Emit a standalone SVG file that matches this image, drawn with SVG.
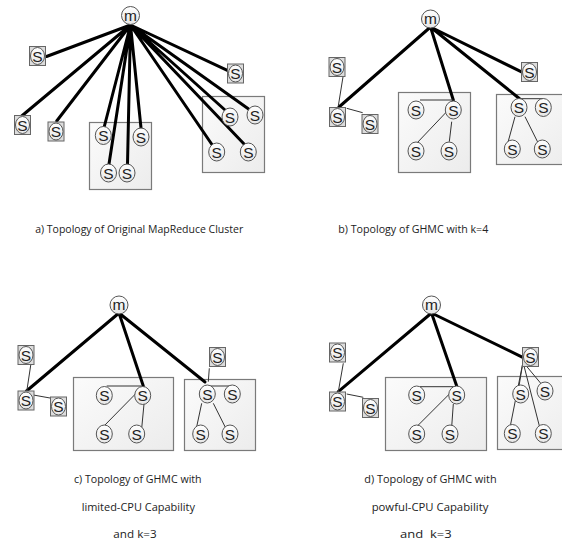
<svg xmlns="http://www.w3.org/2000/svg" width="562" height="546" viewBox="0 0 562 546">
<defs>
<linearGradient id="cg" x1="0" y1="0" x2="0" y2="1"><stop offset="0" stop-color="#ffffff"/><stop offset="1" stop-color="#e6e6e6"/></linearGradient>
<linearGradient id="bg" x1="0" y1="0" x2="1" y2="1"><stop offset="0" stop-color="#fbfbfb"/><stop offset="1" stop-color="#ececec"/></linearGradient>
</defs>
<style>
.cl{fill:url(#bg);stroke:#7a7a7a;stroke-width:1.2}
.c{fill:url(#cg);stroke:#555;stroke-width:1}
.sq{fill:#dcdcdc;stroke:#666;stroke-width:1}
.t{font-family:"Liberation Sans",Arial,sans-serif;font-size:15.5px;fill:#222;text-anchor:middle}
.cap{font-family:"Open Sans","Liberation Sans",Arial,sans-serif;font-size:11px;fill:#222;text-anchor:middle;white-space:pre}
.k{stroke:#000;stroke-width:3;fill:none;stroke-linecap:round}
.n{stroke:#333;stroke-width:1;fill:none}
</style>

<!-- cluster boxes -->
<g id="clusters">
<rect class="cl" x="89.5" y="122.5" width="62" height="67"/>
<rect class="cl" x="202.5" y="96.5" width="62" height="76"/>
<rect class="cl" x="398.5" y="92.5" width="72" height="80"/>
<rect class="cl" x="496.5" y="94.5" width="80" height="70"/>
<rect class="cl" x="73.5" y="377.5" width="100" height="73"/>
<rect class="cl" x="184.5" y="379.5" width="71" height="71"/>
<rect class="cl" x="385.5" y="377.5" width="101" height="73"/>
<rect class="cl" x="497.5" y="376.5" width="80" height="73"/>
</g>

<!-- connectors -->
<g id="connectors">
<!-- panel a -->
<path class="k" d="M130.5 25L46.5 56.5M130.5 25L230 71.7M130.5 25L21.7 116M130.5 25L56.7 121M130.5 25L104.3 126.5M130.5 25L141 128M130.5 25L109 164M130.5 25L127.5 164M130.5 25L226.7 111.5M130.5 25L250 110M130.5 25L213.3 146.5M130.5 25L245 145"/>
<!-- panel b -->
<path class="k" d="M430.5 27L339 107M430.5 27L453.3 100M430.5 27L519.3 98.5M430.5 27L521 71.7"/>
<path class="n" d="M343.3 75L338.3 106M346.7 108.3L362.7 112.7M420 100L453.3 100M446.7 111.7L416.7 143.3M451.7 121.7L449.3 141.7M519.3 98.7L543.3 98.7M515 116.7L507.7 143.3M525 116.7L538.3 143.3"/>
<!-- panel c -->
<path class="k" d="M119 313L26.5 391M119 313L143.3 386M119 313L205 382"/>
<path class="n" d="M31 363.3L26.7 391.7M33.3 395L51.7 398.3M106.7 386L141.7 386M137.7 391.7L103.3 426.7M144 404L141.7 428.3M206.7 386L230 386M209.3 368.3L208.3 381.7M201.7 403.3L196.7 426.7M213.3 403.3L226.7 430"/>
<!-- panel d -->
<path class="k" d="M431.5 313L338.3 391.7M431.5 313L456.7 386M431.5 313L522.7 357.3"/>
<path class="n" d="M343.3 363.3L338.3 391.7M346.7 394L363.3 397.3M420 386.7L455 386.7M451.7 391.7L416.7 426.7M453.3 404L451.7 426.7M523 362L519 386M523 362L510 427.5M523 362L540 428.5M523 362L543 386"/>
</g>

<!-- panel a nodes -->
<g id="a_m"><circle class="c" cx="130.5" cy="15.5" r="9"/><text class="t" x="130.5" y="20.5">m</text></g>
<g id="a_s1"><rect class="sq" x="29.5" y="46.5" width="16" height="19"/><ellipse class="c" cx="37.5" cy="56" rx="7" ry="8.5"/><text class="t" x="37.5" y="61.5">S</text></g>
<g id="a_s2"><rect class="sq" x="227.5" y="64" width="16" height="19"/><ellipse class="c" cx="235.5" cy="73.5" rx="7" ry="8.5"/><text class="t" x="235.5" y="79">S</text></g>
<g id="a_s3"><rect class="sq" x="14.5" y="115.5" width="16" height="19"/><ellipse class="c" cx="22.5" cy="125" rx="7" ry="8.5"/><text class="t" x="22.5" y="130.5">S</text></g>
<g id="a_s4"><rect class="sq" x="48" y="122" width="16" height="19"/><ellipse class="c" cx="56" cy="131.5" rx="7" ry="8.5"/><text class="t" x="56" y="137">S</text></g>
<g id="a_c1"><ellipse class="c" cx="103.3" cy="135.5" rx="8" ry="9"/><text class="t" x="103.3" y="141">S</text></g>
<g id="a_c2"><ellipse class="c" cx="141" cy="137" rx="8" ry="9"/><text class="t" x="141" y="142.5">S</text></g>
<g id="a_c3"><ellipse class="c" cx="108.5" cy="173" rx="8" ry="9"/><text class="t" x="108.5" y="178.5">S</text></g>
<g id="a_c4"><ellipse class="c" cx="127" cy="173" rx="8" ry="9"/><text class="t" x="127" y="178.5">S</text></g>
<g id="a_c5"><ellipse class="c" cx="230" cy="117" rx="8" ry="9"/><text class="t" x="230" y="122.5">S</text></g>
<g id="a_c6"><ellipse class="c" cx="255" cy="115" rx="8" ry="9"/><text class="t" x="255" y="120.5">S</text></g>
<g id="a_c7"><ellipse class="c" cx="216.7" cy="152" rx="8" ry="9"/><text class="t" x="216.7" y="157.5">S</text></g>
<g id="a_c8"><ellipse class="c" cx="248.3" cy="152" rx="8" ry="9"/><text class="t" x="248.3" y="157.5">S</text></g>

<!-- panel b nodes -->
<g id="b_m"><circle class="c" cx="430.5" cy="19" r="9"/><text class="t" x="430.5" y="24">m</text></g>
<g id="b_s1"><rect class="sq" x="329" y="57.5" width="16" height="19"/><ellipse class="c" cx="337" cy="67" rx="7" ry="8.5"/><text class="t" x="337" y="72.5">S</text></g>
<g id="b_s2"><rect class="sq" x="329.5" y="107.5" width="16" height="19"/><ellipse class="c" cx="337.5" cy="117" rx="7" ry="8.5"/><text class="t" x="337.5" y="122.5">S</text></g>
<g id="b_s3"><rect class="sq" x="362" y="114.5" width="16" height="19"/><ellipse class="c" cx="370" cy="124" rx="7" ry="8.5"/><text class="t" x="370" y="129.5">S</text></g>
<g id="b_s4"><rect class="sq" x="521.5" y="62.5" width="16" height="19"/><ellipse class="c" cx="529.5" cy="72" rx="7" ry="8.5"/><text class="t" x="529.5" y="77.5">S</text></g>
<g id="b_c1"><ellipse class="c" cx="416" cy="110" rx="8" ry="9"/><text class="t" x="416" y="115.5">S</text></g>
<g id="b_c2"><ellipse class="c" cx="453.3" cy="110" rx="8" ry="9"/><text class="t" x="453.3" y="115.5">S</text></g>
<g id="b_c3"><ellipse class="c" cx="416" cy="151" rx="8" ry="9"/><text class="t" x="416" y="156.5">S</text></g>
<g id="b_c4"><ellipse class="c" cx="449" cy="151" rx="8" ry="9"/><text class="t" x="449" y="156.5">S</text></g>
<g id="b_c5"><ellipse class="c" cx="519" cy="107.5" rx="8" ry="9"/><text class="t" x="519" y="113">S</text></g>
<g id="b_c6"><ellipse class="c" cx="543.3" cy="107.5" rx="8" ry="9"/><text class="t" x="543.3" y="113">S</text></g>
<g id="b_c7"><ellipse class="c" cx="512.3" cy="149" rx="8" ry="9"/><text class="t" x="512.3" y="154.5">S</text></g>
<g id="b_c8"><ellipse class="c" cx="542.3" cy="149" rx="8" ry="9"/><text class="t" x="542.3" y="154.5">S</text></g>

<!-- panel c nodes -->
<g id="c_m"><circle class="c" cx="119" cy="305" r="9"/><text class="t" x="119" y="310">m</text></g>
<g id="c_s1"><rect class="sq" x="18" y="345.5" width="16" height="19"/><ellipse class="c" cx="26" cy="355" rx="7" ry="8.5"/><text class="t" x="26" y="360.5">S</text></g>
<g id="c_s2"><rect class="sq" x="18" y="391" width="16" height="19"/><ellipse class="c" cx="26" cy="400.5" rx="7" ry="8.5"/><text class="t" x="26" y="406">S</text></g>
<g id="c_s3"><rect class="sq" x="50.5" y="397" width="16" height="19"/><ellipse class="c" cx="58.5" cy="406.5" rx="7" ry="8.5"/><text class="t" x="58.5" y="412">S</text></g>
<g id="c_s4"><rect class="sq" x="209.5" y="347.5" width="16" height="19"/><ellipse class="c" cx="217.5" cy="357" rx="7" ry="8.5"/><text class="t" x="217.5" y="362.5">S</text></g>
<g id="c_c1"><ellipse class="c" cx="104.3" cy="395.5" rx="8" ry="9"/><text class="t" x="104.3" y="401">S</text></g>
<g id="c_c2"><ellipse class="c" cx="142.7" cy="395.5" rx="8" ry="9"/><text class="t" x="142.7" y="401">S</text></g>
<g id="c_c3"><ellipse class="c" cx="104.3" cy="434" rx="8" ry="9"/><text class="t" x="104.3" y="439.5">S</text></g>
<g id="c_c4"><ellipse class="c" cx="136.7" cy="434" rx="8" ry="9"/><text class="t" x="136.7" y="439.5">S</text></g>
<g id="c_c5"><ellipse class="c" cx="207.3" cy="394" rx="8" ry="9"/><text class="t" x="207.3" y="399.5">S</text></g>
<g id="c_c6"><ellipse class="c" cx="232.3" cy="394" rx="8" ry="9"/><text class="t" x="232.3" y="399.5">S</text></g>
<g id="c_c7"><ellipse class="c" cx="200.7" cy="434" rx="8" ry="9"/><text class="t" x="200.7" y="439.5">S</text></g>
<g id="c_c8"><ellipse class="c" cx="230" cy="434" rx="8" ry="9"/><text class="t" x="230" y="439.5">S</text></g>

<!-- panel d nodes -->
<g id="d_m"><circle class="c" cx="431.5" cy="305" r="9"/><text class="t" x="431.5" y="310">m</text></g>
<g id="d_s1"><rect class="sq" x="329.5" y="343" width="16" height="19"/><ellipse class="c" cx="337.5" cy="352.5" rx="7" ry="8.5"/><text class="t" x="337.5" y="358">S</text></g>
<g id="d_s2"><rect class="sq" x="329.5" y="392" width="16" height="19"/><ellipse class="c" cx="337.5" cy="401.5" rx="7" ry="8.5"/><text class="t" x="337.5" y="407">S</text></g>
<g id="d_s3"><rect class="sq" x="362.5" y="398.5" width="16" height="19"/><ellipse class="c" cx="370.5" cy="408" rx="7" ry="8.5"/><text class="t" x="370.5" y="413.5">S</text></g>
<g id="d_s4"><rect class="sq" x="522.5" y="347.5" width="16" height="19"/><ellipse class="c" cx="530.5" cy="357" rx="7" ry="8.5"/><text class="t" x="530.5" y="362.5">S</text></g>
<g id="d_c1"><ellipse class="c" cx="416.7" cy="395" rx="8" ry="9"/><text class="t" x="416.7" y="400.5">S</text></g>
<g id="d_c2"><ellipse class="c" cx="456.7" cy="395" rx="8" ry="9"/><text class="t" x="456.7" y="400.5">S</text></g>
<g id="d_c3"><ellipse class="c" cx="416.7" cy="434" rx="8" ry="9"/><text class="t" x="416.7" y="439.5">S</text></g>
<g id="d_c4"><ellipse class="c" cx="450" cy="434" rx="8" ry="9"/><text class="t" x="450" y="439.5">S</text></g>
<g id="d_c5"><ellipse class="c" cx="520.7" cy="394" rx="8" ry="9"/><text class="t" x="520.7" y="399.5">S</text></g>
<g id="d_c6"><ellipse class="c" cx="545" cy="391" rx="8" ry="9"/><text class="t" x="545" y="396.5">S</text></g>
<g id="d_c7"><ellipse class="c" cx="512.3" cy="433.5" rx="8" ry="9"/><text class="t" x="512.3" y="439">S</text></g>
<g id="d_c8"><ellipse class="c" cx="543.3" cy="433.5" rx="8" ry="9"/><text class="t" x="543.3" y="439">S</text></g>

<!-- captions -->
<g id="captions">
<text class="cap" x="139.2" y="233" textLength="208" lengthAdjust="spacingAndGlyphs">a) Topology of Original MapReduce Cluster</text>
<text class="cap" x="413.3" y="233" textLength="150" lengthAdjust="spacingAndGlyphs">b) Topology of GHMC with k=4</text>
<text class="cap" x="137.8" y="483" textLength="127.7" lengthAdjust="spacingAndGlyphs">c) Topology of GHMC with</text>
<text class="cap" x="138.3" y="511" textLength="113.3" lengthAdjust="spacingAndGlyphs">limited-CPU Capability</text>
<text class="cap" x="135" y="538" textLength="43.3" lengthAdjust="spacingAndGlyphs">and k=3</text>
<text class="cap" x="430.5" y="483" textLength="132.3" lengthAdjust="spacingAndGlyphs">d) Topology of GHMC with</text>
<text class="cap" x="430" y="511" textLength="116.7" lengthAdjust="spacingAndGlyphs">powful-CPU Capability</text>
<text class="cap" x="425.8" y="538" textLength="51.7" lengthAdjust="spacingAndGlyphs">and  k=3</text>
</g>
</svg>
